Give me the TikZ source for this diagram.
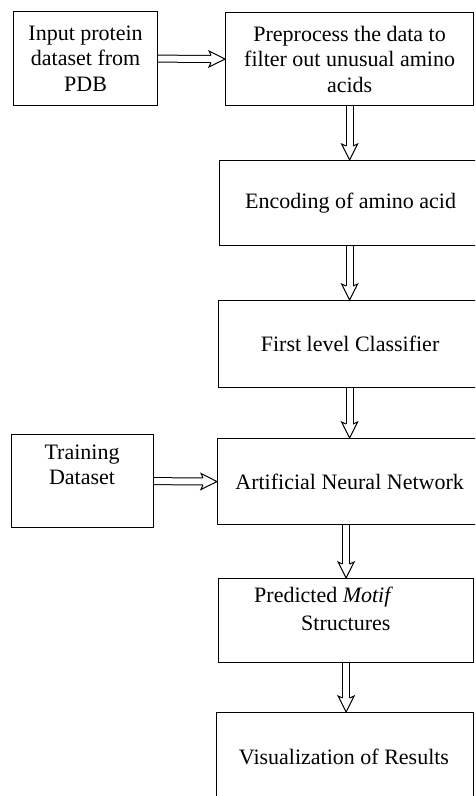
\documentclass[tikz,border=0pt]{standalone}
\usepackage{fontspec}
\setmainfont{Liberation Serif}
\usetikzlibrary{calc}
\tikzset{
  box/.style={draw=black, line width=1.2pt, rectangle, anchor=north west, inner sep=0pt, align=center, font=\fontsize{22}{25.5}\selectfont},
  lbl/.style={inner sep=0pt, align=center, font=\fontsize{22}{25.5}\selectfont},
  shaft/.style={double=white, draw=black, double distance=6pt, line width=1pt, line cap=butt},
  headline/.style={draw=black, line width=1pt, line join=miter},
}
\newcommand\blkarrow[2]{%
  \draw[shaft, shorten >=13pt] (#1) -- (#2);
  \fill[white] ($(#2)!14.43pt!14.04:(#1)$) -- ($(#2)!17.89pt!26.57:(#1)$) -- (#2) -- ($(#2)!17.89pt!-26.57:(#1)$) -- ($(#2)!14.43pt!-14.04:(#1)$) -- cycle;
  \draw[headline] ($(#2)!14.43pt!14.04:(#1)$) -- ($(#2)!17.89pt!26.57:(#1)$) -- (#2) -- ($(#2)!17.89pt!-26.57:(#1)$) -- ($(#2)!14.43pt!-14.04:(#1)$);
}
\begin{document}
\begin{tikzpicture}[x=1pt,y=-1pt]
\useasboundingbox (0,0) rectangle (475,796);
\clip (0,0) rectangle (475,796);
\fill[white] (0,0) rectangle (475,796);
\node[box, minimum width=144pt, minimum height=94pt] (inp) at (13,11) {Input protein\\dataset from\\PDB};
\node[box, minimum width=248pt, minimum height=93pt] (prep) at (225,12) {Preprocess the data to\\filter out unusual amino\\acids};
\node[box, minimum width=262pt, minimum height=85pt] (enc) at (219,160) {Encoding of amino acid};
\node[box, minimum width=263pt, minimum height=87pt] (first) at (218,300) {First level Classifier};
\node[box, minimum width=142pt, minimum height=93pt] (train) at (11,434) {};
\node[lbl] (trainl) at (82,465) {Training\\Dataset};
\node[box, minimum width=264pt, minimum height=86pt] (ann) at (217,438) {Artificial Neural Network};
\node[box, minimum width=255pt, minimum height=84pt] (pred) at (218,578) {};
\node[lbl, anchor=west] (predl1) at (254,597) {Predicted \textit{Motif}};
\node[lbl, anchor=west] (predl2) at (301,623) {Structures};
\node[box, minimum width=257pt, minimum height=120pt] (vis) at (216,712) {};
\node[lbl] (visl) at (344,757) {Visualization of Results};
\coordinate (e1) at (prep.south |- enc.north);
\coordinate (s2) at (enc.south -| prep.south);
\coordinate (e2) at (first.north -| prep.south);
\coordinate (s3) at (first.south -| prep.south);
\coordinate (e3) at (ann.north -| prep.south);
\coordinate (s4) at (ann.south -| pred.south);
\coordinate (e5) at (pred.south |- vis.north);
\blkarrow{inp.east}{prep.west}
\blkarrow{train.east}{ann.west}
\blkarrow{prep.south}{e1}
\blkarrow{s2}{e2}
\blkarrow{s3}{e3}
\blkarrow{s4}{pred.north}
\blkarrow{pred.south}{e5}
\end{tikzpicture}
\end{document}
